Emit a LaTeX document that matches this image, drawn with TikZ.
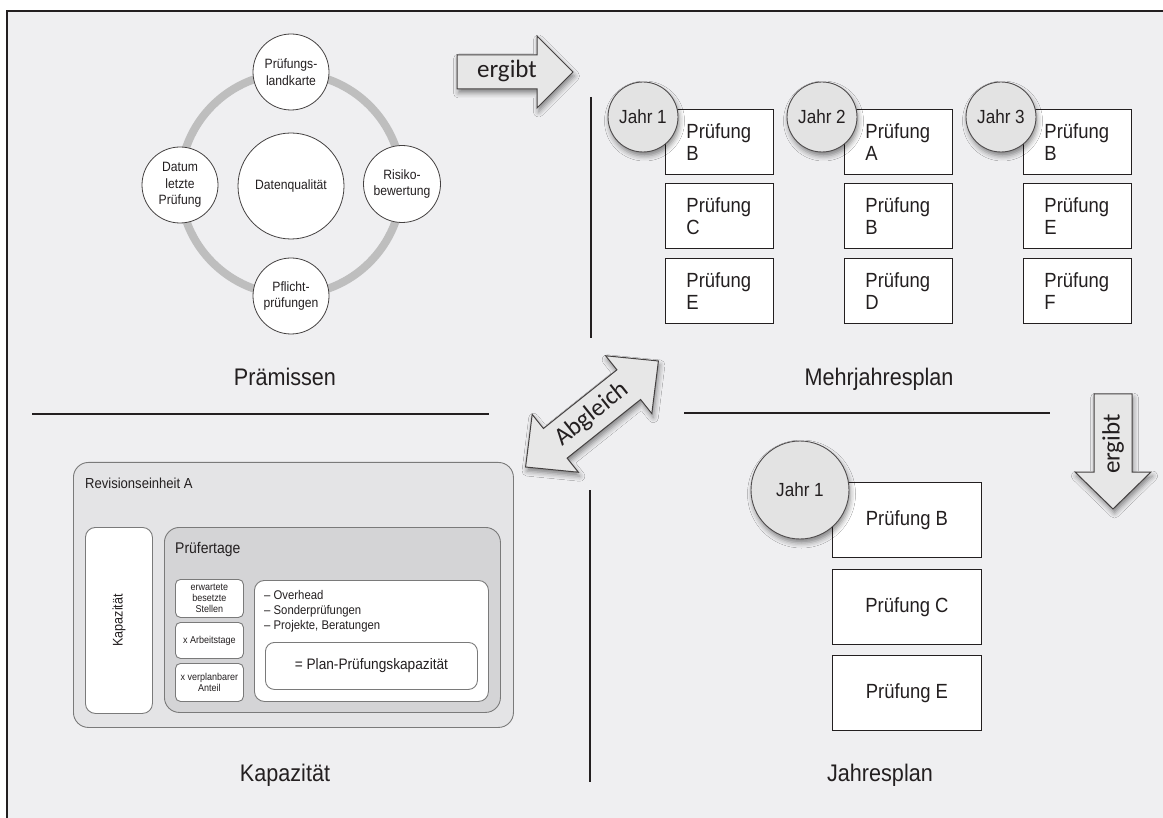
\documentclass[tikz,border=0pt]{standalone}
\usepackage{fontspec}
\setmainfont{Liberation Sans}[FakeStretch=0.9]
\newfontfamily\arrowfont{Carlito}
\usetikzlibrary{shadows.blur}

\definecolor{paper}{HTML}{EFEFF1}
\definecolor{ink}{HTML}{231F20}
\definecolor{ringgray}{HTML}{BEBEBE}
\definecolor{outergray}{HTML}{E4E4E6}
\definecolor{innergray}{HTML}{D4D4D6}
\definecolor{boxline}{HTML}{7A7A7A}
\definecolor{jahrfill}{HTML}{E3E3E3}
\definecolor{arrowfill}{HTML}{E7E7E7}

\tikzset{
  softshadow/.style={blur shadow={shadow xshift=1.5pt, shadow yshift=-4pt,
      shadow blur radius=5pt, shadow opacity=45}},
  premcirc/.style={circle, draw=ink!85, line width=0.8pt, fill=white,
      align=center, inner sep=0pt, text=ink,
      font=\fontsize{13.5}{16.5}\selectfont},
  jahr/.style={circle, draw=ink!80, line width=0.9pt, fill=jahrfill,
      inner sep=0pt, text=ink, softshadow},
  pbox/.style={rectangle, draw=ink, line width=0.9pt, fill=white, text=ink,
      inner sep=0pt},
  mbox/.style={pbox, anchor=north west, minimum width=108pt, minimum height=65pt,
      align=left, text width=66pt, inner xsep=21pt,
      font=\fontsize{20.5}{22}\selectfont},
  jbox/.style={pbox, anchor=north west, minimum width=149pt, minimum height=75pt,
      font=\fontsize{20.5}{22}\selectfont},
  arrowbox/.style={draw=ink!85, line width=1pt, fill=arrowfill, line join=miter,
      softshadow},
  arrowtext/.style={text=ink, inner sep=0pt, font=\arrowfont\fontsize{25}{28}\selectfont},
  title/.style={text=ink, inner sep=0pt, font=\fontsize{24}{28}\selectfont},
  sep/.style={draw=ink, line width=1.6pt},
  roundbox/.style={rectangle, draw=boxline, line width=0.9pt, anchor=north west,
      inner sep=0pt},
  smallbox/.style={roundbox, fill=white, rounded corners=5pt,
      minimum width=68pt, align=center, text=ink,
      font=\fontsize{10}{11}\selectfont},
}

\begin{document}
\begin{tikzpicture}[x=1pt, y=-1pt]
\useasboundingbox (0,0) rectangle (1163,818);
\fill[white] (0,0) rectangle (1163,818);
\fill[paper] (7,11) rectangle (1163,818);
\draw[line width=2pt, ink] (7,818) -- (7,11) -- (1163,11);

% ---------- Prämissen ----------
\draw[ringgray, line width=8pt] (291,184) circle[radius=111];
\node[premcirc, minimum size=106pt] (dq) at (291,186) {Datenqualität};
\node[premcirc, minimum size=76pt] (lk) at (291,72) {Prüfungs-\\landkarte};
\node[premcirc, minimum size=77pt] (rb) at (402,184) {Risiko-\\bewertung};
\node[premcirc, minimum size=76pt] (pp) at (291,296) {Pflicht-\\prüfungen};
\node[premcirc, minimum size=76pt] (dl) at (180,185) {Datum\\letzte\\Prüfung};
\node[title, anchor=base] (tprem) at (285,386) {Prämissen};

% separators
\draw[sep] (32,414) -- (489,414);
\draw[sep] (684,413) -- (1050,413);
\draw[sep] (591,97) -- (591,338);
\draw[sep] (590,490) -- (590,782);

% ---------- arrow "ergibt" to the right ----------
\draw[arrowbox] (457,55) -- (537,55) -- (537,36) -- (573,72) -- (537,108)
  -- (537,89) -- (457,89) -- cycle;
\node[arrowtext] (erg1) at (507,71) {ergibt};

% ---------- Mehrjahresplan ----------
\node[mbox] (a1) at (665,109) {Prüfung\\B};
\node[mbox] (a2) at (665,183) {Prüfung\\C};
\node[mbox] (a3) at (665,258) {Prüfung\\E};
\node[mbox] (b1) at (844,109) {Prüfung\\A};
\node[mbox] (b2) at (844,183) {Prüfung\\B};
\node[mbox] (b3) at (844,258) {Prüfung\\D};
\node[mbox] (c1) at (1023,109) {Prüfung\\B};
\node[mbox] (c2) at (1023,183) {Prüfung\\E};
\node[mbox] (c3) at (1023,258) {Prüfung\\F};
\node[jahr, minimum size=70pt, font=\fontsize{19}{22}\selectfont] (ja) at (643,117) {Jahr 1};
\node[jahr, minimum size=70pt, font=\fontsize{19}{22}\selectfont] (jb) at (822,117) {Jahr 2};
\node[jahr, minimum size=70pt, font=\fontsize{19}{22}\selectfont] (jc) at (1001,117) {Jahr 3};
\node[title, anchor=base] (tmehr) at (879,386) {Mehrjahresplan};

% ---------- arrow "ergibt" downwards ----------
\draw[arrowbox] (1094,394) -- (1132,394) -- (1132,472) -- (1151,472)
  -- (1113,509) -- (1075,472) -- (1094,472) -- cycle;
\node[arrowtext, rotate=90] (erg2) at (1113,444) {ergibt};

% ---------- double arrow "Abgleich" ----------
\begin{scope}[shift={(592,414)}, rotate=38.6]
  \draw[arrowbox] (-85,0) -- (-47,-37) -- (-47,-19) -- (47,-19) -- (47,-37)
    -- (85,0) -- (47,37) -- (47,19) -- (-47,19) -- (-47,37) -- cycle;
\end{scope}
\node[arrowtext, rotate=38.6] (abg) at (592,414) {Abgleich};

% ---------- Kapazität ----------
\node[roundbox, fill=outergray, rounded corners=15pt,
  minimum width=440pt, minimum height=265pt] (rev) at (73,462) {};
\node[anchor=base west, inner sep=0pt, text=ink,
  font=\fontsize{14.5}{17}\selectfont] (revt) at (85,488) {Revisionseinheit A};
\node[roundbox, fill=white, rounded corners=10pt,
  minimum width=67pt, minimum height=186pt] (kap) at (85,527) {};
\node[rotate=90, text=ink, inner sep=0pt,
  font=\fontsize{14}{17}\selectfont] (kapt) at (kap.center) {Kapazität};
\node[roundbox, fill=innergray, rounded corners=15pt,
  minimum width=336pt, minimum height=185pt] (pt) at (164,527) {};
\node[anchor=base west, inner sep=0pt, text=ink,
  font=\fontsize{15.5}{18}\selectfont] (ptt) at (175,553) {Prüfertage};
\node[smallbox, minimum height=38pt] (s1) at (175,579) {erwartete\\besetzte\\Stellen};
\node[smallbox, minimum height=36pt] (s2) at (175,622) {x Arbeitstage};
\node[smallbox, minimum height=38pt] (s3) at (175,663) {x verplanbarer\\Anteil};
\node[roundbox, fill=white, rounded corners=10pt,
  minimum width=234pt, minimum height=121pt] (ov) at (254,580) {};
\node[anchor=north west, inner sep=0pt, align=left, text=ink,
  font=\fontsize{12.6}{15}\selectfont] (ovt) at (264,590)
  {\textendash{} Overhead\\\textendash{} Sonderprüfungen\\\textendash{} Projekte, Beratungen};
\node[roundbox, fill=white, rounded corners=9pt,
  minimum width=212pt, minimum height=47pt, text=ink,
  font=\fontsize{15.2}{18}\selectfont] (plan) at (265,642) {= Plan-Prüfungskapazität};
\node[title, anchor=base] (tkap) at (285,781) {Kapazität};

% ---------- Jahresplan ----------
\node[jbox] (p1) at (832,482) {Prüfung B};
\node[jbox] (p2) at (832,569) {Prüfung C};
\node[jbox] (p3) at (832,655) {Prüfung E};
\node[jahr, minimum size=98pt, font=\fontsize{19}{22}\selectfont] (jj) at (800,490) {Jahr 1};
\node[title, anchor=base] (tjahr) at (880,781) {Jahresplan};
\end{tikzpicture}
\end{document}
